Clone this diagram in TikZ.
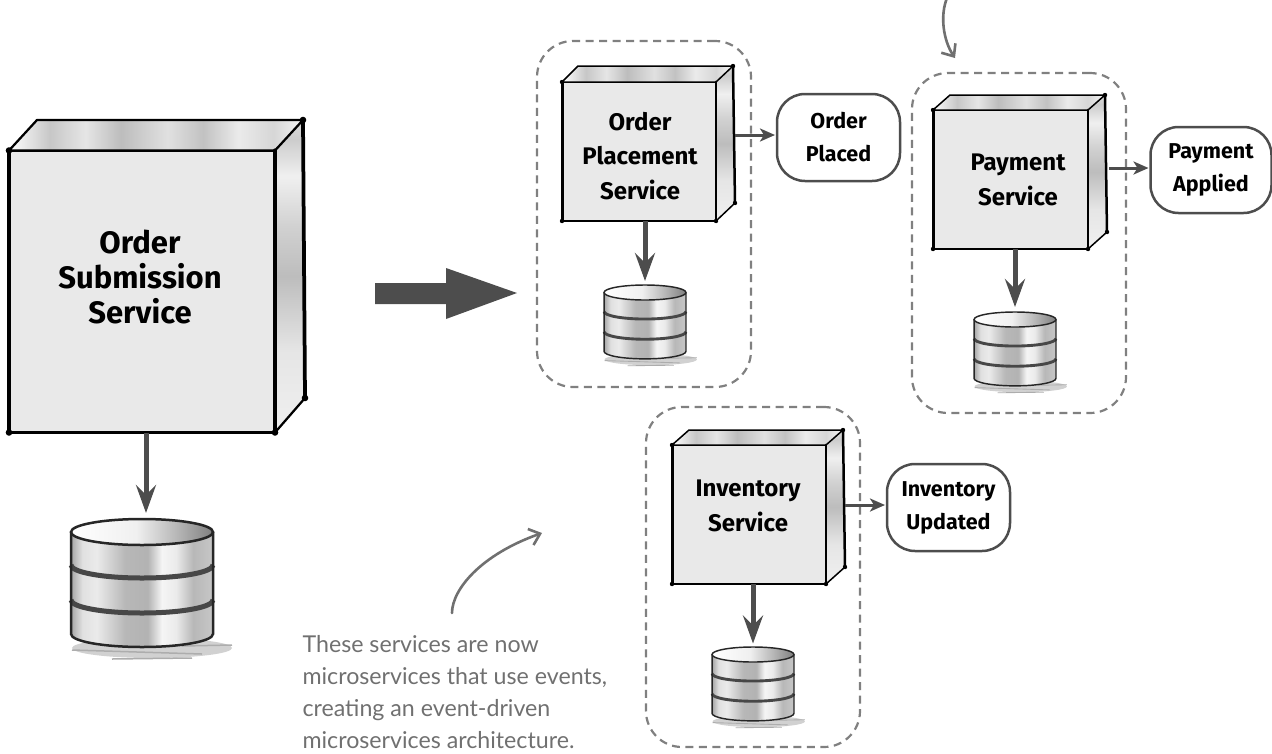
\documentclass[tikz,border=0pt]{standalone}
\usepackage{fontspec}
\setmainfont{Fira Sans}
\newfontfamily\notefont{Lato}
\usepackage{xcolor}
\usetikzlibrary{calc, arrows.meta}

\definecolor{inkgray}{HTML}{4D4D4D}
\definecolor{notegray}{HTML}{707070}
\definecolor{dashgray}{HTML}{808080}
\definecolor{facegray}{HTML}{E9E9E9}

\pgfdeclarehorizontalshading{topstreak}{100bp}{
  color(0bp)=(white); color(25bp)=(white); color(32bp)=(black!22); color(38bp)=(black!10);
  color(44bp)=(black!26); color(52bp)=(black!12); color(58bp)=(black!24); color(64bp)=(black!8);
  color(70bp)=(black!16); color(75bp)=(black!4); color(100bp)=(black!4)}
\pgfdeclareverticalshading{sidestreak}{100bp}{
  color(0bp)=(black!6); color(25bp)=(black!6); color(38bp)=(black!10); color(50bp)=(black!26);
  color(58bp)=(black!18); color(66bp)=(black!6); color(72bp)=(black!20); color(75bp)=(black!14);
  color(100bp)=(black!14)}
\pgfdeclarehorizontalshading{dbband}{100bp}{
  color(0bp)=(black!35); color(25bp)=(black!35); color(29bp)=(black!12); color(34bp)=(black!8);
  color(44bp)=(black!28); color(52bp)=(black!30); color(57bp)=(black!4); color(62bp)=(black!8);
  color(68bp)=(black!28); color(75bp)=(black!22); color(100bp)=(black!22)}
\pgfdeclarehorizontalshading{dblid}{100bp}{
  color(0bp)=(white); color(25bp)=(white); color(48bp)=(black!6); color(62bp)=(black!28);
  color(75bp)=(black!50); color(100bp)=(black!50)}

\tikzset{
  frontface/.style={draw=black, fill=facegray, line width=#1, inner sep=0pt, outer sep=0pt, line join=round},
  svclabel/.style={align=center, text=black, font=\bfseries\fontsize{24}{34.5}\selectfont},
  biglabel/.style={align=center, text=black, font=\bfseries\fontsize{31}{35}\selectfont},
  evtlabel/.style={draw=inkgray, fill=white, line width=2.5pt, rounded corners=28pt, inner sep=0pt, outer sep=0pt,
    align=center, text=black, font=\bfseries\fontsize{21.5}{33}\selectfont, execute at begin node={\rule{0pt}{21pt}}},
  groupbox/.style={draw=dashgray, line width=2.2pt, dash pattern=on 8pt off 5.5pt, rounded corners=36pt, inner sep=0pt, outer sep=0pt},
  dbnode/.style={inner sep=0pt, outer sep=0pt},
  storearrow/.style={draw=inkgray, line width=5pt, -{Stealth[length=28pt,width=20pt,inset=10pt]}},
  evtarrow/.style={draw=inkgray, line width=3pt, -{Stealth[length=15pt,width=13pt,inset=4pt]}},
  notearrow/.style={draw=notegray, line width=2.6pt, line cap=round, -{Straight Barb[length=10pt,width=17pt]}},
}

% side and top of a service box: node, back left, back right, lower right, width
\newcommand{\boxfaces}[5]{
  \path[shading=topstreak] (#1.north west) -- #2 -- #3 -- (#1.north east) -- cycle;
  \path[shading=sidestreak] (#1.north east) -- #3 -- #4 -- (#1.south east) -- cycle;
  \draw[line width=#5*0.75pt, line cap=round, line join=round] (#1.north west) -- #2 -- #3 -- (#1.north east) -- cycle;
  \draw[line width=#5*0.75pt, line cap=round] (#1.south east) -- #4;
  \draw[line width=#5*1.25pt, line cap=round] #3 -- #4;
  \draw[line width=#5*1.5pt, line cap=round] (#1.north west) -- (#1.south west);
  \draw[line width=#5*1.4pt, line cap=round] (#1.north east) -- (#1.south east);
  \fill (#1.north west) circle (#5*1.1) (#1.south west) circle (#5*1.1) (#1.south east) circle (#5*1.1) #3 circle (#5*1.1) #4 circle (#5*1.1);
}

% stack of discs: centre x, top y, scale
\newcommand{\dbstack}[3]{
  \begin{scope}[shift={(#1,#2)}, scale=#3]
    \fill[black!18] (10,129) ellipse (80 and 10);
    \draw[black!32, line width=#3*1.5pt] (-70,131) -- (60,135) (-30,140) -- (50,139) (40,127) -- (90,126);
    \path[shading=dbband] (-71,13) -- (-71,115) arc[start angle=180, end angle=0, x radius=71, y radius=13] -- (71,13) arc[start angle=0, end angle=180, x radius=71, y radius=13] -- cycle;
    \draw[black!72, line width=#3*5pt] (-71,46) arc[start angle=180, end angle=0, x radius=71, y radius=13];
    \draw[black!72, line width=#3*5pt] (-71,81) arc[start angle=180, end angle=0, x radius=71, y radius=13];
    \draw[black!85, line width=#3*2.5pt] (-71,13) -- (-71,115) arc[start angle=180, end angle=0, x radius=71, y radius=13] -- (71,13);
    \draw[black!85, line width=#3*2.5pt, shading=dblid] (0,13) ellipse (71 and 13);
  \end{scope}
}

\begin{document}
\begin{tikzpicture}[x=1pt, y=-1pt]
    \useasboundingbox (0,0) rectangle (1272,753);

    % Dashed groups
    \node[groupbox, minimum width=214pt, minimum height=346pt] (placegroup) at (644,214) {};
    \node[groupbox, minimum width=214pt, minimum height=340pt] (paygroup) at (1019,243) {};
    \node[groupbox, minimum width=214pt, minimum height=340pt] (stockgroup) at (753,577) {};

    % Service boxes
    \node[frontface=3pt, minimum width=266pt, minimum height=282pt] (submitbox) at (142,291.5) {};
    \boxfaces{submitbox}{(37,120)}{(303,120)}{(305,398)}{3pt}
    \node[biglabel] at (140,277) {Order\\Submission\\Service};

    \node[frontface=2pt, minimum width=154pt, minimum height=139pt] (placebox) at (639,151.5) {};
    \boxfaces{placebox}{(578,66)}{(733,66)}{(735,203)}{2pt}
    \node[svclabel] at (640,156) {Order\\Placement\\Service};

    \node[frontface=2pt, minimum width=155pt, minimum height=139pt] (paybox) at (1010.5,179.5) {};
    \boxfaces{paybox}{(950,95)}{(1105,95)}{(1107,232)}{2pt}
    \node[svclabel] at (1018,180) {Payment\\Service};

    \node[frontface=2pt, minimum width=154pt, minimum height=139pt] (stockbox) at (749,514.5) {};
    \boxfaces{stockbox}{(689,430)}{(843,430)}{(845,567)}{2pt}
    \node[svclabel] at (748,506) {Inventory\\Service};

    % Databases
    \node[dbnode, minimum width=142pt, minimum height=128pt] (submitdb) at (142,583) {};
    \dbstack{142}{519}{1}
    \node[dbnode, minimum width=82pt, minimum height=73pt] (placedb) at (645,321.5) {};
    \dbstack{645}{285}{0.577}
    \node[dbnode, minimum width=82pt, minimum height=73pt] (paydb) at (1015,348.5) {};
    \dbstack{1015}{312}{0.577}
    \node[dbnode, minimum width=82pt, minimum height=73pt] (stockdb) at (753,684) {};
    \dbstack{753}{647}{0.577}

    \draw[storearrow, shorten >=6pt] ([xshift=4pt]submitbox.south) -- ([xshift=4pt]submitbox.south |- submitdb.north);
    \draw[storearrow, shorten >=4pt] (placedb.north |- placebox.south) -- (placedb.north);
    \draw[storearrow, shorten >=5pt] (paydb.north |- paybox.south) -- (paydb.north);
    \draw[storearrow, shorten >=4pt] (stockdb.north |- stockbox.south) -- (stockdb.north);

    % Events
    \node[evtlabel, minimum width=123pt, minimum height=87pt] (placeevt) at (838.5,137.5) {Order\\Placed};
    \node[evtlabel, minimum width=121pt, minimum height=86pt] (payevt) at (1211,170) {Payment\\Applied};
    \node[evtlabel, minimum width=123pt, minimum height=87pt] (stockevt) at (948.5,507.5) {Inventory\\Updated};

    \coordinate (placeout) at (735,135);
    \coordinate (payout) at (1109,168);
    \coordinate (stockout) at (845,505);
    \draw[evtarrow, shorten >=2pt] (placeout) -- (placeout -| placeevt.west);
    \draw[evtarrow, shorten >=2pt] (payout) -- (payout -| payevt.west);
    \draw[evtarrow, shorten >=2pt] (stockout) -- (stockout -| stockevt.west);

    % Big arrow
    \fill[inkgray] (375,283) -- (446,283) -- (446,268) -- (517,293) -- (446,319) -- (446,304) -- (375,304) -- cycle;

    % Notes
    \node[anchor=north west, align=left, text=notegray, font=\notefont\fontsize{23.2}{31.8}\selectfont] (notetext) at (299,632)
      {These services are now\\microservices that use events,\\creating an event-driven\\microservices architecture.};
    \coordinate (notestart) at (452,613);
    \coordinate (notetip) at (542,533);
    \draw[notearrow] (notestart) .. controls (452,590) and (480,555) .. (notetip);
    \coordinate (toptop) at (947,-2);
    \coordinate (toptip) at (955,58);
    \draw[notearrow] (toptop) .. controls (940,15) and (943,40) .. (toptip);
\end{tikzpicture}
\end{document}
